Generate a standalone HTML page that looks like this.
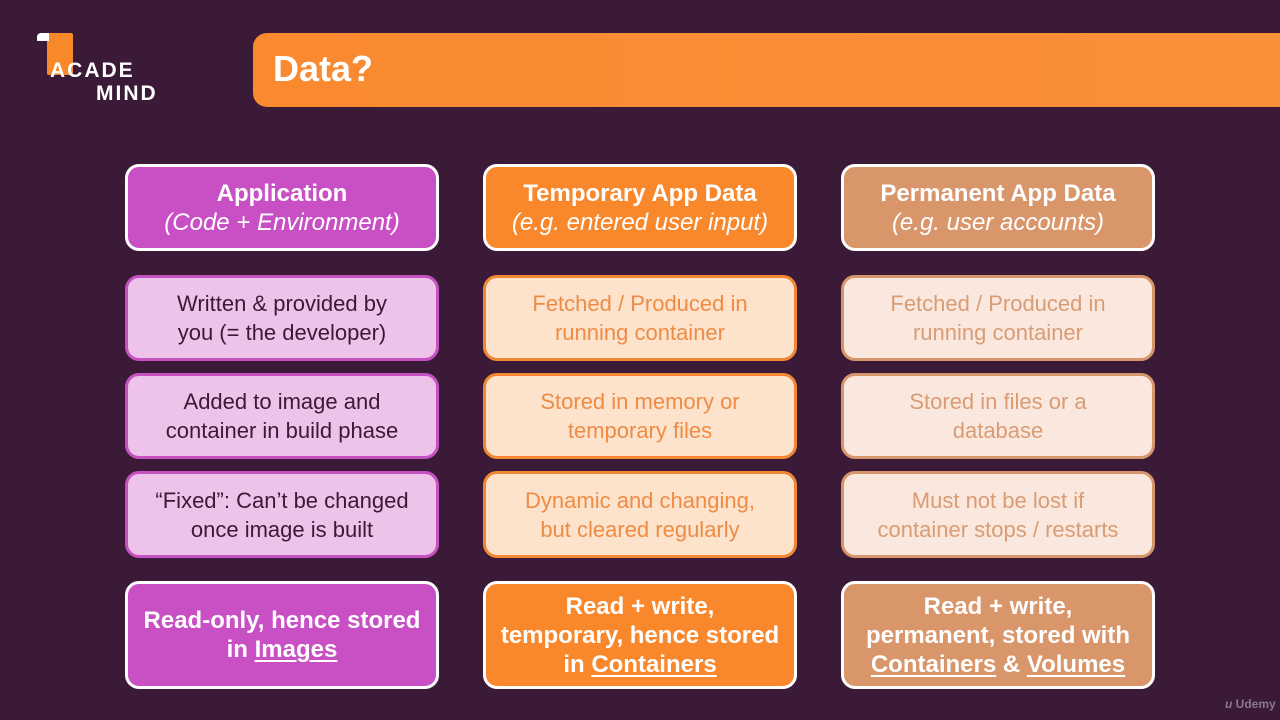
<!DOCTYPE html>
<html><head><meta charset="utf-8"><style>
*{margin:0;padding:0;box-sizing:border-box}
body{width:1280px;height:720px;background:#3b1a37;position:relative;overflow:hidden;font-family:"Liberation Sans",sans-serif}
.b{position:absolute;width:314px;display:flex;flex-direction:column;justify-content:center;align-items:center;text-align:center;border-radius:14px;font-size:22px;line-height:29px;border:3px solid}
.h{font-weight:bold;color:#fff;border-color:#fff;font-size:24px}
.h i{font-weight:normal}
.p{background:#c94fc4}
.o{background:#f9872c}
.t{background:#d9966a}
.lp{background:#edc3ea;border-color:#c552c0;color:#3b1a37}
.lo{background:#fde2cc;border-color:#f28733;color:#ee8c45}
.lt{background:#fae7dd;border-color:#d7956b;color:#d99c74}
u{text-decoration-thickness:2px;text-underline-offset:3px}
</style></head><body>
<div style="position:absolute;left:47px;top:33px;width:26px;height:42px;background:#f7892b;border-radius:2px"></div>
<div style="position:absolute;left:37px;top:33px;width:12px;height:8px;background:#fff;border-radius:4px 0 0 0"></div>
<div style="position:absolute;left:50px;top:60px;color:#fff;font-weight:bold;font-size:21px;letter-spacing:2px;line-height:22px">ACADE</div>
<div style="position:absolute;left:96px;top:83px;color:#fff;font-weight:bold;font-size:21px;letter-spacing:2px;line-height:22px">MIND</div>
<div style="position:absolute;left:253px;top:33px;width:1060px;height:74px;background:linear-gradient(90deg,#f98a30,#f9903a);border-radius:14px"></div>
<div style="position:absolute;left:273px;top:47px;color:#fff;font-weight:bold;font-size:36px;line-height:44px">Data?</div>

<div class="b h p" style="left:125px;top:164px;height:87px"><div>Application<br><i>(Code + Environment)</i></div></div>
<div class="b h o" style="left:483px;top:164px;height:87px"><div>Temporary App Data<br><i>(e.g. entered user input)</i></div></div>
<div class="b h t" style="left:841px;top:164px;height:87px"><div>Permanent App Data<br><i>(e.g. user accounts)</i></div></div>

<div class="b lp" style="left:125px;top:275px;height:86px"><div>Written &amp; provided by<br>you (= the developer)</div></div>
<div class="b lo" style="left:483px;top:275px;height:86px"><div>Fetched / Produced in<br>running container</div></div>
<div class="b lt" style="left:841px;top:275px;height:86px"><div>Fetched / Produced in<br>running container</div></div>

<div class="b lp" style="left:125px;top:373px;height:86px"><div>Added to image and<br>container in build phase</div></div>
<div class="b lo" style="left:483px;top:373px;height:86px"><div>Stored in memory or<br>temporary files</div></div>
<div class="b lt" style="left:841px;top:373px;height:86px"><div>Stored in files or a<br>database</div></div>

<div class="b lp" style="left:125px;top:471px;height:87px"><div>“Fixed”: Can’t be changed<br>once image is built</div></div>
<div class="b lo" style="left:483px;top:471px;height:87px"><div>Dynamic and changing,<br>but cleared regularly</div></div>
<div class="b lt" style="left:841px;top:471px;height:87px"><div>Must not be lost if<br>container stops / restarts</div></div>

<div class="b h p" style="left:125px;top:581px;height:108px"><div>Read-only, hence stored<br>in <u>Images</u></div></div>
<div class="b h o" style="left:483px;top:581px;height:108px"><div>Read + write,<br>temporary, hence stored<br>in <u>Containers</u></div></div>
<div class="b h t" style="left:841px;top:581px;height:108px"><div>Read + write,<br>permanent, stored with<br><u>Containers</u> &amp; <u>Volumes</u></div></div>

<div style="position:absolute;left:1225px;top:697px;color:#8a7a88;font-size:12px;font-weight:bold"><i>u</i> Udemy</div>
</body></html>
